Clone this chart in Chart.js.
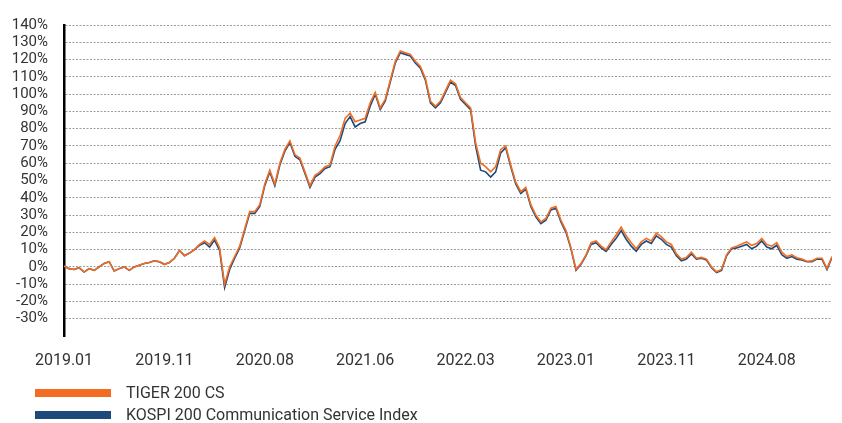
<!DOCTYPE html>
<html>
<head>
<meta charset="utf-8">
<script src="https://cdn.jsdelivr.net/npm/chart.js@4.4.1/dist/chart.umd.min.js"></script>
<style>
    body { margin: 0; background: #fff; }
    #wrap { position: relative; width: 842px; height: 423px; }
    .legend-item { position: absolute; left: 35px; height: 20px; font-family: Roboto, sans-serif; font-size: 16px; color: #333; }
    .legend-item span.box { position: absolute; left: 0; top: 6px; width: 76px; height: 8px; }
    .legend-item span.label { position: absolute; left: 91px; top: 0; white-space: nowrap; line-height: 20px; }
</style>
</head>
<body>
<div id="wrap">
    <canvas id="myChart" width="842" height="423"></canvas>
    <div class="legend-item" style="top:383px"><span class="box" style="background:#f26d21"></span><span class="label">TIGER 200 CS</span></div>
    <div class="legend-item" style="top:405px"><span class="box" style="background:#1c4a7d"></span><span class="label">KOSPI 200 Communication Service Index</span></div>
</div>
<script>
// x tick labels, one every 20 samples
const tickLabels = ['2019.01', '2019.11', '2020.08', '2021.06', '2022.03', '2023.01', '2023.11', '2024.08'];

// cumulative return (%)
const tigerCS = [
    0.5, -1, -1.5, -0.5, -3, -1, -2, 0, 2, 3,
    -2.4, -1, 0, -2, 0, 1, 2, 2.5, 3.5, 3,
    1.5, 2.5, 5, 9.5, 6.5, 8, 10, 13, 15, 13,
    17, 11, -10, 0, 6, 12, 22, 32, 32, 36,
    48, 56, 48, 60, 68, 73, 65, 63, 55, 47,
    53, 55, 58, 59, 70, 76, 86, 89, 84, 85,
    86, 95, 101, 92, 97, 108, 119, 125, 124, 123,
    119, 116, 109, 96, 93, 96, 102, 108, 106, 98,
    95, 92, 72, 60, 58, 55, 58, 68, 70, 59,
    49, 43.5, 46, 36, 30, 26, 28, 34, 35, 27,
    21, 11, -1.5, 2, 7, 14, 15, 12, 10, 14.5,
    18.5, 23, 18, 14, 10.5, 14.5, 16.5, 15, 19.5, 17.5,
    14.5, 13, 7.5, 4.5, 5.5, 8.5, 5, 5.5, 4.5, 0,
    -2.8, -1.5, 7, 11, 12, 13.2, 14.5, 12.5, 13.5, 16.5,
    13, 12, 14, 8.5, 6, 7, 5.3, 4.5, 3.3, 3.5,
    5, 5, -1, 6
];

const kospiCS = [
    0.5, -1, -1.5, -0.5, -3, -1, -2, 0, 2, 3,
    -2.4, -1, 0, -2, 0, 1, 2, 2.5, 3.5, 3,
    1.5, 2.5, 5, 9.5, 6.5, 8, 10, 12.5, 14, 11.5,
    15.5, 9.5, -12, -1.5, 5, 11, 21, 31, 31, 35,
    47, 55, 47, 59, 67, 72, 64, 62, 54, 46,
    52, 54, 57, 58, 68, 73, 83, 87, 81, 83,
    84, 93, 100, 91, 96, 107, 118, 124, 123, 122,
    118, 115, 108, 95, 92, 95, 101, 107, 105, 97,
    94, 91, 70, 56, 55, 52, 55, 66, 69, 58,
    48, 42.5, 45, 35, 29, 25, 27, 33, 34, 26,
    20, 10.5, -2, 1.5, 6.5, 13, 14, 11, 9, 13,
    16.5, 21, 16, 12, 9, 13, 15, 13.5, 18, 16,
    13, 11.5, 6.5, 3.5, 4.5, 7.5, 4.5, 5, 4, -0.5,
    -3.3, -2, 6.5, 10.5, 11, 12, 13, 10.5, 12, 15,
    11.5, 10.5, 12.5, 7, 5, 6, 4.5, 4, 3, 3,
    4.5, 4.5, -1.5, 5.5
];

const toPoints = arr => arr.map((v, i) => ({ x: i, y: v }));

const ctx = document.getElementById('myChart').getContext('2d');

let myChart = new Chart(ctx, {
    type: 'line',
    data: {
        datasets: [
            { label: 'TIGER 200 CS', data: toPoints(tigerCS), borderColor: '#f26d21', borderWidth: 1.6, pointRadius: 0, fill: false, tension: 0 },
            { label: 'KOSPI 200 Communication Service Index', data: toPoints(kospiCS), borderColor: '#1c4a7d', borderWidth: 1.6, pointRadius: 0, fill: false, tension: 0 }
        ]
    },
    options: {
        responsive: false,
        animation: false,
        layout: { padding: { top: 14, right: 10, left: 0, bottom: 0 } },
        plugins: {
            legend: { display: false },
            tooltip: { enabled: false }
        },
        scales: {
            x: {
                type: 'linear',
                min: 0,
                max: tigerCS.length - 1,
                grid: { display: false, drawTicks: false },
                border: { display: false },
                ticks: {
                    stepSize: 20,
                    includeBounds: false,
                    autoSkip: false,
                    maxRotation: 0,
                    padding: 15,
                    color: '#333',
                    font: { family: 'Roboto, sans-serif', size: 16 },
                    callback: value => tickLabels[value / 20] || ''
                },
                afterFit: scale => { scale.height = 87; }
            },
            y: {
                min: -40,
                max: 140,
                grid: {
                    drawTicks: false,
                    lineWidth: 1,
                    color: c => (c.tick && c.tick.value === -40) ? 'rgba(0,0,0,0)' : '#9c9c9c'
                },
                border: { display: true, color: '#000', width: 2.5, dash: [2, 1.5] },
                ticks: {
                    stepSize: 10,
                    autoSkip: false,
                    padding: 16,
                    color: '#333',
                    font: { family: 'Roboto, sans-serif', size: 15 },
                    callback: value => value === -40 ? '' : value + '%'
                },
                afterFit: scale => { scale.width = 64; }
            }
        }
    }
});
</script>
</body>
</html>
